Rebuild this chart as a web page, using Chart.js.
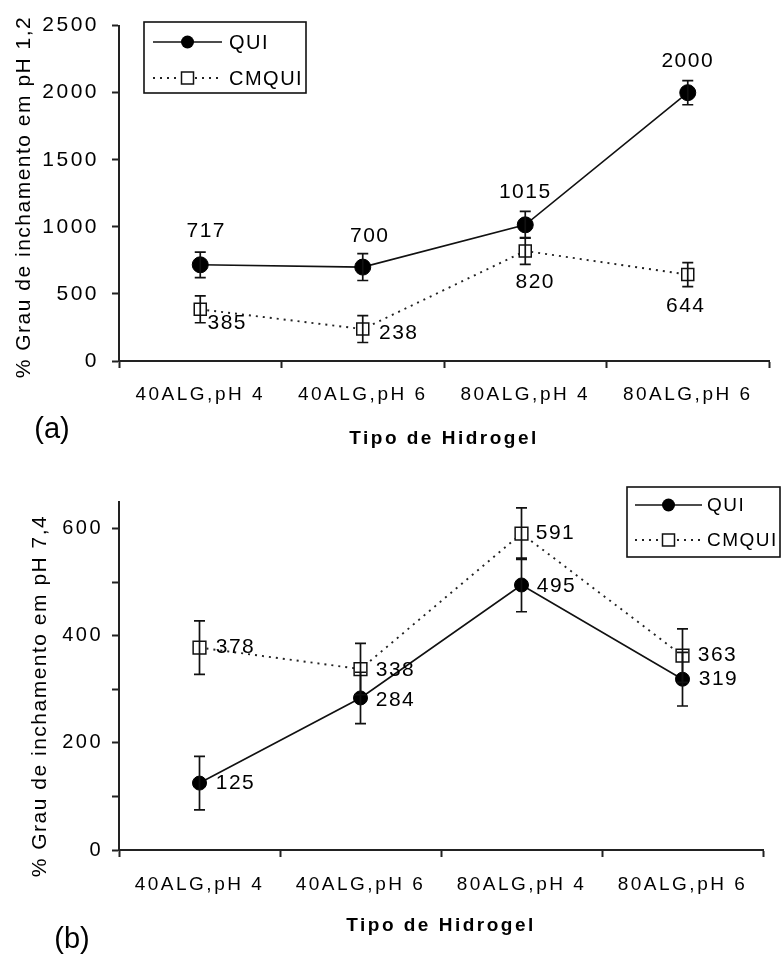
<!DOCTYPE html>
<html><head><meta charset="utf-8">
<script src="https://cdn.jsdelivr.net/npm/chart.js@4.4.1/dist/chart.umd.min.js"></script>
<style>
html,body{margin:0;padding:0;background:#fff;}
#wrap{position:relative;width:781px;height:956px;overflow:hidden;background:#fff;}
canvas{position:absolute;left:0;}
</style></head><body>
<div id="wrap">
<canvas id="cA" width="781" height="460" style="top:0px"></canvas>
<canvas id="cB" width="781" height="496" style="top:460px"></canvas>
</div>
<script>
// ---------- DATA ----------
const categories = ['40ALG,pH 4', '40ALG,pH 6', '80ALG,pH 4', '80ALG,pH 6'];
const seriesNames = ['QUI', 'CMQUI'];
const xTitle = 'Tipo de Hidrogel';

// (a) swelling at pH 1,2
const quiA = [717, 700, 1015, 2000];
const cmquiA = [385, 238, 820, 644];
const quiAErr = [95, 100, 100, 90];
const cmquiAErr = [100, 100, 100, 90];
const yTicksA = [0, 500, 1000, 1500, 2000, 2500];
const yLabelsA = ['0', '500', '1000', '1500', '2000', '2500'];
const yTitleA = '% Grau de inchamento em pH 1,2';

// (b) swelling at pH 7,4
const quiB = [125, 284, 495, 319];
const cmquiB = [378, 338, 591, 363];
const quiBErr = [50, 48, 50, 50];
const cmquiBErr = [50, 48, 48, 50];
const yTicksB = [0, 100, 200, 300, 400, 500, 600];
const yLabelsB = ['0', '', '200', '', '400', '', '600'];
const yTitleB = '% Grau de inchamento em pH 7,4';

// ---------- LAYOUT / STYLE ----------
const FONT = "'Liberation Sans', Arial, Helvetica, sans-serif";
const labelPosA = [[[6, -34], [7, -31], [0, -33], [0, -31]], [[27, 14], [36, 4], [10, 31], [-2, 32]]];
const labelPosB = [[[36, 0], [35, 2], [35, 1], [36, 0]], [[36, 0], [35, 1], [34, 0], [35, 0]]];

function makeDatasets(qui, cmqui, quiErr, cmquiErr, labelPos, radii) {
  return [
    {
      label: seriesNames[0], data: qui, errorBars: quiErr, labelPos: labelPos[0],
      borderColor: '#111', borderWidth: 1.6, fill: false, tension: 0,
      pointStyle: 'circle', pointRadius: radii[0], pointBackgroundColor: '#000',
      pointBorderColor: '#000', pointBorderWidth: 1
    },
    {
      label: seriesNames[1], data: cmqui, errorBars: cmquiErr, labelPos: labelPos[1],
      borderColor: '#222', borderWidth: 1.9, borderDash: [2, 5], fill: false, tension: 0,
      pointStyle: 'rect', pointRadius: radii[1], pointBackgroundColor: '#fff',
      pointBorderColor: '#111', pointBorderWidth: 1.5
    }
  ];
}

const overlay = {
  id: 'overlay',
  beforeDraw(chart) { chart.ctx.letterSpacing = '2.5px'; },
  afterDatasetsDraw(chart, args, o) {
    const ctx = chart.ctx, ys = chart.scales.y;
    ctx.save();
    chart.data.datasets.forEach((ds, di) => {
      const meta = chart.getDatasetMeta(di);
      meta.data.forEach((pt, i) => {
        const v = ds.data[i], e = ds.errorBars[i];
        const yt = ys.getPixelForValue(v + e), yb = ys.getPixelForValue(v - e);
        ctx.strokeStyle = '#111'; ctx.lineWidth = 1.7; ctx.setLineDash([]);
        ctx.beginPath();
        ctx.moveTo(pt.x, yt); ctx.lineTo(pt.x, yb);
        ctx.moveTo(pt.x - 5.5, yt); ctx.lineTo(pt.x + 5.5, yt);
        ctx.moveTo(pt.x - 5.5, yb); ctx.lineTo(pt.x + 5.5, yb);
        ctx.stroke();
      });
    });
    ctx.fillStyle = '#000';
    ctx.font = '21px ' + FONT;
    ctx.letterSpacing = '1.5px';
    ctx.textAlign = 'center'; ctx.textBaseline = 'middle';
    chart.data.datasets.forEach((ds, di) => {
      const meta = chart.getDatasetMeta(di);
      meta.data.forEach((pt, i) => {
        const off = ds.labelPos[i];
        ctx.fillText(String(ds.data[i]), pt.x + off[0], pt.y + off[1]);
      });
    });
    ctx.restore();
  },
  afterDraw(chart, args, o) {
    const ctx = chart.ctx;
    ctx.save();
    ctx.fillStyle = '#000';
    ctx.font = '21px ' + FONT;
    ctx.letterSpacing = '1.5px';
    ctx.textAlign = 'center'; ctx.textBaseline = 'middle';
    ctx.translate(o.yTitleX, o.yTitleY);
    ctx.rotate(-Math.PI / 2);
    ctx.fillText(o.yTitle, 0, 0);
    ctx.setTransform(1, 0, 0, 1, 0, 0);
    ctx.letterSpacing = '0px';
    ctx.font = '29px ' + FONT;
    ctx.fillText(o.panel, o.panelX, o.panelY);
    const L = o.legend;
    ctx.strokeStyle = '#111'; ctx.lineWidth = 1.6; ctx.setLineDash([]);
    ctx.strokeRect(L.x, L.y, L.w, L.h);
    chart.data.datasets.forEach((ds, i) => {
      const cy = L.rowY[i];
      ctx.beginPath();
      ctx.setLineDash(ds.borderDash || []);
      ctx.lineWidth = ds.borderWidth; ctx.strokeStyle = ds.borderColor;
      ctx.moveTo(L.x0, cy); ctx.lineTo(L.x1, cy); ctx.stroke();
      ctx.setLineDash([]);
      const mx = (L.x0 + L.x1) / 2;
      ctx.beginPath();
      if (ds.pointStyle === 'circle') {
        ctx.arc(mx, cy, 6.5, 0, Math.PI * 2);
        ctx.fillStyle = ds.pointBackgroundColor; ctx.fill();
      } else {
        ctx.rect(mx - 6, cy - 6, 12, 12);
        ctx.fillStyle = ds.pointBackgroundColor; ctx.fill();
        ctx.lineWidth = 1.5; ctx.strokeStyle = ds.pointBorderColor; ctx.stroke();
      }
      ctx.fillStyle = '#000';
      ctx.font = L.fontSize + 'px ' + FONT;
      ctx.letterSpacing = '1.5px';
      ctx.textAlign = 'left'; ctx.textBaseline = 'middle';
      ctx.fillText(ds.label, L.tx, cy + 1);
    });
    ctx.restore();
  }
};

function buildOptions(p) {
  return {
    responsive: false, animation: false, devicePixelRatio: 1,
    layout: { padding: { left: 0, top: p.top, right: p.right, bottom: 0 } },
    plugins: { legend: { display: false }, tooltip: { enabled: false }, overlay: p.overlay },
    scales: {
      x: {
        type: 'category', offset: true,
        grid: { display: true, drawOnChartArea: false, drawTicks: true, tickLength: 7, tickWidth: 2, tickColor: '#222', offset: true },
        border: { display: true, color: '#222', width: 2 },
        ticks: { font: { family: FONT, size: 19 }, color: '#000', padding: p.xPad, maxRotation: 0, minRotation: 0, autoSkip: false },
        title: { display: true, text: xTitle, color: '#000', font: { family: FONT, size: 19, weight: 'bold' }, padding: { top: 0, bottom: p.xTitlePad } },
        afterFit(s) { s.height = p.xHeight; }
      },
      y: {
        type: 'linear', min: p.min, max: p.max,
        afterBuildTicks(s) { s.ticks = p.ticks.map(v => ({ value: v })); },
        ticks: { callback: (v, i) => p.labels[i], font: { family: FONT, size: p.yFont }, color: '#000', padding: p.yPad },
        grid: { display: true, drawOnChartArea: false, drawTicks: true, tickLength: 7, tickWidth: 2, tickColor: '#222' },
        border: { display: true, color: '#222', width: 2 },
        afterFit(s) { s.width = 119; }
      }
    }
  };
}

new Chart(document.getElementById('cA'), {
  type: 'line',
  data: { labels: categories, datasets: makeDatasets(quiA, cmquiA, quiAErr, cmquiAErr, labelPosA, [8, 8.5]) },
  options: buildOptions({
    top: 20, right: 12, xHeight: 99, xPad: 15, xTitlePad: 10,
    min: 0, max: 2500, ticks: yTicksA, labels: yLabelsA, yFont: 21, yPad: 13,
    overlay: {
      yTitle: yTitleA, yTitleX: 24, yTitleY: 197, panel: '(a)', panelX: 52, panelY: 430,
      legend: { x: 144, y: 22, w: 162, h: 71, rowY: [42, 78], x0: 153, x1: 222, tx: 229, fontSize: 20 }
    }
  }),
  plugins: [overlay]
});

new Chart(document.getElementById('cB'), {
  type: 'line',
  data: { labels: categories, datasets: makeDatasets(quiB, cmquiB, quiBErr, cmquiBErr, labelPosB, [7, 9]) },
  options: buildOptions({
    top: 42, right: 18, xHeight: 106, xPad: 16, xTitlePad: 19,
    min: 0, max: 650, ticks: yTicksB, labels: yLabelsB, yFont: 20, yPad: 9,
    overlay: {
      yTitle: yTitleB, yTitleX: 40, yTitleY: 236, panel: '(b)', panelX: 72, panelY: 480,
      legend: { x: 627, y: 27, w: 153, h: 70, rowY: [45, 80], x0: 635, x1: 702, tx: 707, fontSize: 19 }
    }
  }),
  plugins: [overlay]
});
</script>
</body></html>
